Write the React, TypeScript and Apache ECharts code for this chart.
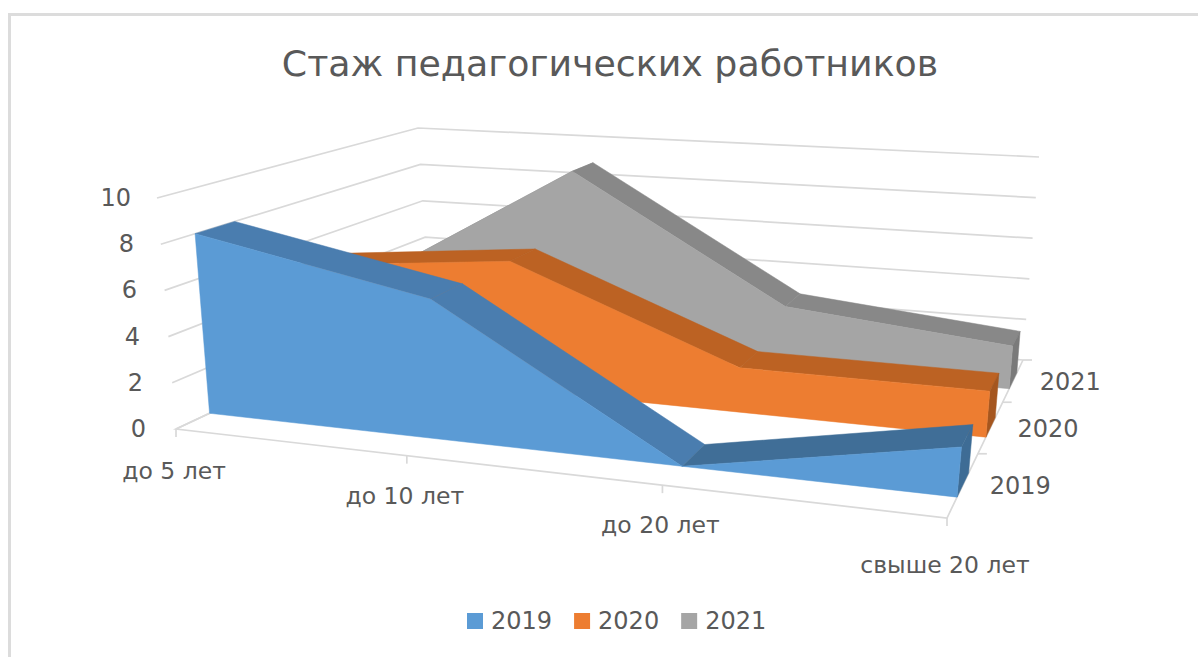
import React, { useEffect, useRef } from "react";
import * as echarts from "echarts";

const titleText = "Стаж педагогических работников";
const categories = ["до 5 лет", "до 10 лет", "до 20 лет", "свыше 20 лет"];
const seriesNames = ["2019", "2020", "2021"];
const values2019 = [8, 6, 0, 2];
const values2020 = [5, 6, 2, 2];
const values2021 = [3, 9, 3, 2];
const valueTicks = [0, 2, 4, 6, 8, 10];

const frontColors = ["#5B9BD5", "#ED7D31", "#A5A5A5"];
const topColors = ["#4A7DAF", "#BC6223", "#888888"];
const risingTopColors = ["#406E97", "#B55E22", "#808080"];
const sideColors = ["#3E6C95", "#A5561F", "#7A7A7A"];
const TEXT = "#595959";
const LINE = "#D9D9D9";
const FONT = "'DejaVu Sans', sans-serif";

// Corners of the 3D box on screen: [depth 0/1][value 0/1][category 0/1]
const BOX = [
  [[[176, 429], [947, 518]], [[157, 198], [970, 260]]],
  [[[430, 310], [1023, 360]], [[418, 128], [1039, 157]]],
];
const warp = (t: number, r: number) => t / (t + (1 - t) * r);
const lerp = (a: number, b: number, t: number) => a + (b - a) * t;

function project(u: number, d: number, w: number): number[] {
  const b = warp(d, 0.73);
  const a = warp(u, lerp(1.17, 1.12, b));
  return [0, 1].map((k) =>
    lerp(
      lerp(lerp(BOX[0][0][0][k], BOX[0][0][1][k], a), lerp(BOX[0][1][0][k], BOX[0][1][1][k], a), w),
      lerp(lerp(BOX[1][0][0][k], BOX[1][0][1][k], a), lerp(BOX[1][1][0][k], BOX[1][1][1][k], a), w),
      b
    )
  );
}

// Axis scales → unit box fractions
function scaler(api: any) {
  const o = api.coord([0, 0]);
  const e = api.coord([categories.length - 1, 10]);
  return (cat: number, val: number) => {
    const c = api.coord([cat, val]);
    return [(c[0] - o[0]) / (e[0] - o[0]), (c[1] - o[1]) / (e[1] - o[1])];
  };
}

const makeAreaSeries = (idx: number, values: number[]) => ({
  type: "custom",
  name: seriesNames[idx],
  coordinateSystem: "cartesian2d",
  z: 5 - idx,
  silent: true,
  itemStyle: { color: frontColors[idx] },
  data: values.map((v, i) => [i, v]),
  encode: { x: 0, y: 1 },
  clip: false,
  renderItem: (params: any, api: any) => {
    const n = values.length;
    if (params.dataIndex !== n - 1) return null;
    const s = scaler(api);
    const d0 = idx / 3 + 0.1;
    const d1 = d0 + 0.125;
    const pts = Array.from({ length: n }, (_, j) => s(api.value(0, j), api.value(1, j)));
    const front = pts.map(([u, w]) => project(u, d0, w));
    const back = pts.map(([u, w]) => project(u, d1, w));
    const children: any[] = [];
    const poly = (points: number[][], fill: string) => ({
      type: "polygon",
      shape: { points },
      style: { fill, stroke: fill, lineWidth: 0.5 },
    });
    for (let j = 0; j < n - 1; j++) {
      const rising = pts[j + 1][1] > pts[j][1] && idx === 0;
      const fill = rising ? risingTopColors[idx] : topColors[idx];
      children.push(poly([front[j], front[j + 1], back[j + 1], back[j]], fill));
    }
    const [uEnd] = pts[n - 1];
    children.push(
      poly(
        [project(uEnd, d0, 0), front[n - 1], back[n - 1], project(uEnd, d1, 0)],
        sideColors[idx]
      )
    );
    children.push(poly([...front, project(uEnd, d0, 0), project(pts[0][0], d0, 0)], frontColors[idx]));
    return { type: "group", children };
  },
});

const gridSeries = {
  type: "custom",
  coordinateSystem: "cartesian2d",
  z: 1,
  silent: true,
  clip: false,
  data: valueTicks.map((v) => [0, v]),
  encode: { x: 0, y: 1 },
  renderItem: (_: any, api: any) => {
    const s = scaler(api);
    const [, w] = s(0, api.value(1));
    const pts = [project(0, 0, w), project(0, 1, w), project(1, 1, w)];
    const [lx, ly] = pts[0];
    return {
      type: "group",
      children: [
        { type: "polyline", shape: { points: pts }, style: { stroke: LINE, lineWidth: 1.7, fill: "none" } },
        {
          type: "text",
          style: {
            text: String(api.value(1)),
            x: lx - 30 + 4 * w,
            y: ly,
            align: "right",
            verticalAlign: "middle",
            fill: TEXT,
            fontSize: 24,
            fontFamily: FONT,
          },
        },
      ],
    };
  },
};

const catLabelDy = [42, 40, 40, 47];
const categorySeries = {
  type: "custom",
  coordinateSystem: "cartesian2d",
  z: 1,
  silent: true,
  clip: false,
  data: categories.map((_, i) => [i, 0]),
  encode: { x: 0, y: 1 },
  renderItem: (params: any, api: any) => {
    const s = scaler(api);
    const [u] = s(api.value(0), 0);
    const [x, y] = project(u, 0, 0);
    const children: any[] = [
      { type: "line", shape: { x1: x, y1: y, x2: x, y2: y + 8 }, style: { stroke: LINE, lineWidth: 1.7 } },
      {
        type: "text",
        style: {
          text: categories[params.dataIndex],
          x: x - 2,
          y: y + catLabelDy[params.dataIndex],
          align: "center",
          verticalAlign: "middle",
          fill: TEXT,
          fontSize: 23.5,
          fontFamily: FONT,
        },
      },
    ];
    return { type: "group", children };
  },
};

const depthSeries = {
  type: "custom",
  coordinateSystem: "cartesian2d",
  z: 1,
  silent: true,
  clip: false,
  data: seriesNames.map((_, i) => [i, 0]),
  encode: { x: 0, y: 1 },
  renderItem: (params: any, api: any) => {
    const i = params.dataIndex;
    const s = scaler(api);
    const [uEnd] = s(categories.length - 1, 0);
    const [tx, ty] = project(uEnd, (i + 1) / 3, 0);
    const [lx, ly] = project(uEnd, (i + 0.5) / 3, 0);
    return {
      type: "group",
      children: [
        { type: "line", shape: { x1: tx, y1: ty, x2: tx + 9, y2: ty }, style: { stroke: LINE, lineWidth: 1.7 } },
        {
          type: "text",
          style: {
            text: seriesNames[i],
            x: lx + 57,
            y: ly + 2,
            align: "center",
            verticalAlign: "middle",
            fill: TEXT,
            fontSize: 24,
            fontFamily: FONT,
          },
        },
      ],
    };
  },
};

const floorSeries = {
  type: "custom",
  coordinateSystem: "cartesian2d",
  z: 1,
  silent: true,
  clip: false,
  data: [[0, 0]],
  encode: { x: 0, y: 1 },
  renderItem: () => ({
    type: "polyline",
    shape: { points: [project(0, 1, 0), project(0, 0, 0), project(1, 0, 0), project(1, 1, 0)] },
    style: { stroke: LINE, lineWidth: 1.7, fill: "none" },
  }),
};

export default function App() {
  const ref = useRef<HTMLDivElement>(null);
  useEffect(() => {
    document.body.style.margin = "0";
    document.body.style.overflow = "hidden";
    const chart = echarts.init(ref.current!, undefined, { renderer: "svg" });
    chart.setOption({
      animation: false,
      backgroundColor: "#FFFFFF",
      title: {
        text: titleText,
        left: 605,
        top: 40,
        textAlign: "center",
        textStyle: { color: TEXT, fontSize: 36.3, fontWeight: "normal", fontFamily: FONT },
      },
      legend: {
        data: seriesNames.map((name, i) => ({ name, itemStyle: { color: frontColors[i] } })),
        left: 462,
        top: 604,
        icon: "rect",
        itemWidth: 16,
        itemHeight: 16,
        itemGap: 22,
        textStyle: { color: TEXT, fontSize: 24, fontFamily: FONT, padding: [0, 0, 0, 3] },
      },
      grid: { left: 100, right: 100, top: 100, bottom: 100 },
      xAxis: { type: "value", min: 0, max: categories.length - 1, show: false },
      yAxis: { type: "value", min: 0, max: 10, interval: 2, show: false },
      graphic: [
        {
          type: "rect",
          shape: { x: 9.5, y: 14.5, width: 1400, height: 900 },
          style: { fill: "none", stroke: "#DCDCDC", lineWidth: 3 },
          silent: true,
        },
      ],
      series: [
        makeAreaSeries(0, values2019),
        makeAreaSeries(1, values2020),
        makeAreaSeries(2, values2021),
        gridSeries,
        floorSeries,
        categorySeries,
        depthSeries,
      ],
    });
    return () => chart.dispose();
  }, []);
  return <div ref={ref} style={{ position: "absolute", left: 0, top: 0, width: 1198, height: 657 }} />;
}
